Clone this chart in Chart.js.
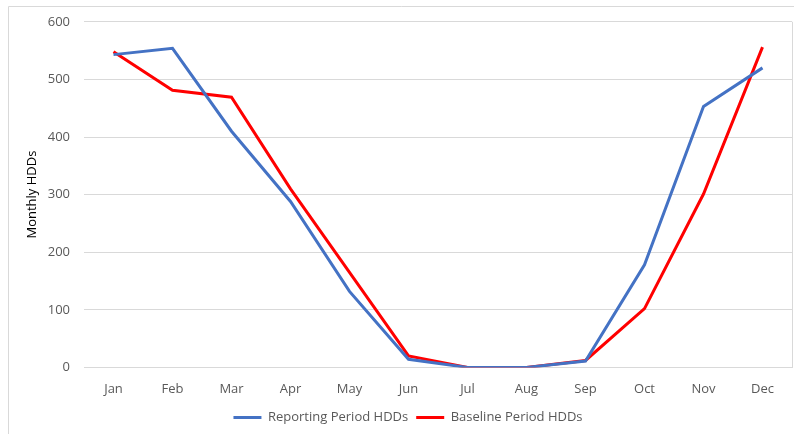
<!DOCTYPE html>
<html>
<head>
<meta charset="utf-8">
<script src="https://cdn.jsdelivr.net/npm/chart.js@4.4.1/dist/chart.umd.min.js"></script>
<style>
  html, body { margin: 0; padding: 0; background: #ffffff; }
  #wrap { width: 794px; height: 434px; position: relative; }
</style>
</head>
<body>
<div id="wrap"><canvas id="hddChart"></canvas></div>
<script>
// --------------------
// Chart data
// --------------------
const months = ["Jan", "Feb", "Mar", "Apr", "May", "Jun", "Jul", "Aug", "Sep", "Oct", "Nov", "Dec"];
const reportingHDDs = [543, 554, 410, 288, 132, 14, 0, 0, 11, 178, 453, 520];
const baselineHDDs = [548, 481, 469, 310, 165, 20, 0, 0, 12, 102, 301, 556];
const yTicks = [0, 100, 200, 300, 400, 500, 600];

const textColor = "#595959";
const gridColor = "#d9d9d9";
const fontFamily = "'Open Sans', 'Liberation Sans', sans-serif";

// frame around the chart, plus the right edge of the plot area
const framePlugin = {
    id: "frame",
    beforeDraw(chart) {
        const ctx = chart.ctx;
        const area = chart.chartArea;
        ctx.save();
        ctx.strokeStyle = gridColor;
        ctx.lineWidth = 1;
        ctx.beginPath();
        ctx.moveTo(8.5, 440);
        ctx.lineTo(8.5, 6.5);
        ctx.lineTo(800, 6.5);
        ctx.moveTo(Math.round(area.right) + 0.5, area.top);
        ctx.lineTo(Math.round(area.right) + 0.5, area.bottom);
        ctx.stroke();
        ctx.restore();
    }
};

const ctx = document.getElementById("hddChart").getContext("2d");

new Chart(ctx, {
    type: "line",
    data: {
        labels: months,
        datasets: [
            {
                label: "Reporting Period HDDs",
                data: reportingHDDs,
                borderColor: "#4472c4",
                backgroundColor: "#4472c4",
                borderWidth: 3,
                pointRadius: 0,
                pointStyle: "line",
                tension: 0,
                fill: false
            },
            {
                label: "Baseline Period HDDs",
                data: baselineHDDs,
                borderColor: "#ff0000",
                backgroundColor: "#ff0000",
                borderWidth: 3,
                pointRadius: 0,
                pointStyle: "line",
                tension: 0,
                fill: false
            }
        ]
    },
    options: {
        responsive: true,
        maintainAspectRatio: false,
        animation: false,
        layout: {
            padding: { left: 24, right: 2, top: 17, bottom: 0 }
        },
        plugins: {
            legend: {
                position: "bottom",
                labels: {
                    usePointStyle: true,
                    pointStyleWidth: 28,
                    color: textColor,
                    font: { family: fontFamily, size: 13 },
                    padding: 8
                }
            },
            tooltip: { enabled: false }
        },
        scales: {
            x: {
                offset: true,
                grid: { display: false },
                border: { display: true, color: gridColor, width: 1 },
                ticks: {
                    color: textColor,
                    font: { family: fontFamily, size: 13 },
                    padding: 6,
                    maxRotation: 0
                }
            },
            y: {
                min: 0,
                max: 600,
                afterBuildTicks(axis) {
                    axis.ticks = yTicks.map(v => ({ value: v }));
                },
                afterFit(axis) {
                    axis.width = 60;
                },
                grid: { color: gridColor, lineWidth: 1, drawTicks: false },
                border: { display: false },
                ticks: {
                    color: textColor,
                    font: { family: fontFamily, size: 13 },
                    padding: 14
                },
                title: {
                    display: true,
                    text: "Monthly HDDs",
                    color: "#000000",
                    font: { family: fontFamily, size: 13 },
                    padding: { top: 0, bottom: 4 }
                }
            }
        }
    },
    plugins: [framePlugin]
});
</script>
</body>
</html>
